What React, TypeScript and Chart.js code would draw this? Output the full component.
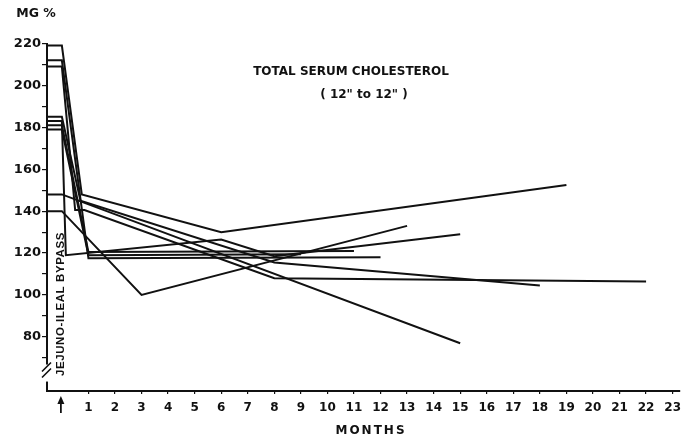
import { useEffect, useRef } from "react";
import { Chart, registerables } from "chart.js";

Chart.register(...registerables);

// ---- axis ranges & ticks ----
const X_MIN = -0.56;
const X_MAX = 23.27;
const Y_MIN = 54.2;
const Y_MAX = 220;
const monthTicks = [1, 2, 3, 4, 5, 6, 7, 8, 9, 10, 11, 12, 13, 14, 15, 16, 17, 18, 19, 20, 21, 22, 23];
const yTickValues = [70, 80, 90, 100, 110, 120, 130, 140, 150, 160, 170, 180, 190, 200, 210, 220];
const yLabelValues = [80, 100, 120, 140, 160, 180, 200, 220];

// ---- data: pre-operative value, then months after bypass / values (mg %) ----
const preOpValues = [219, 212, 209, 185, 183, 181, 179, 148, 140];

const patientAMonths = [0, 0.75, 6, 19];
const patientAValues = [219, 148, 130, 152.5];
const patientBMonths = [0, 1, 12];
const patientBValues = [212, 117.5, 118];
const patientCMonths = [0, 0.5, 0.85, 8, 22];
const patientCValues = [209, 140.5, 140.5, 108, 106.5];
const patientDMonths = [0, 0.7, 8, 18];
const patientDValues = [185, 145, 115.5, 104.5];
const patientEMonths = [0, 0.15, 6, 8, 15];
const patientEValues = [183, 119, 126.5, 118.5, 129];
const patientFMonths = [0, 1, 11];
const patientFValues = [181, 120.5, 121];
const patientGMonths = [0, 1, 9];
const patientGValues = [179, 119, 119.5];
const patientHMonths = [0, 15];
const patientHValues = [148, 77];
const patientIMonths = [0, 3, 13];
const patientIValues = [140, 100, 133];

const patientMonths = [patientAMonths, patientBMonths, patientCMonths, patientDMonths, patientEMonths, patientFMonths, patientGMonths, patientHMonths, patientIMonths];
const patientValues = [patientAValues, patientBValues, patientCValues, patientDValues, patientEValues, patientFValues, patientGValues, patientHValues, patientIValues];

const TITLE = "TOTAL SERUM CHOLESTEROL";
const SUBTITLE = "( 12\" to 12\" )";
const Y_UNIT = "MG %";
const X_TITLE = "MONTHS";
const OPERATION_LABEL = "JEJUNO-ILEAL BYPASS";

const FONT = "'DejaVu Sans', sans-serif";
const INK = "#111";

const decorations = {
  id: "decorations",
  afterDraw(chart: any) {
    const ctx = chart.ctx as CanvasRenderingContext2D;
    const xs = chart.scales.x;
    const ys = chart.scales.y;
    const area = chart.chartArea;
    ctx.save();
    // y-axis break
    const breakY = ys.getPixelForValue(63);
    ctx.fillStyle = "#fff";
    ctx.fillRect(area.left - 3, breakY - 8, 7, 17);
    ctx.strokeStyle = INK;
    ctx.lineWidth = 1.6;
    ctx.beginPath();
    ctx.moveTo(area.left - 5, breakY - 1);
    ctx.lineTo(area.left + 4, breakY - 10);
    ctx.moveTo(area.left - 5, breakY + 5);
    ctx.lineTo(area.left + 4, breakY - 4);
    ctx.stroke();

    // arrow at operation
    const ax = xs.getPixelForValue(0) - 1;
    const ay = area.bottom;
    ctx.lineWidth = 1.8;
    ctx.beginPath();
    ctx.moveTo(ax, ay + 22);
    ctx.lineTo(ax, ay + 9);
    ctx.stroke();
    ctx.fillStyle = INK;
    ctx.beginPath();
    ctx.moveTo(ax, ay + 5);
    ctx.lineTo(ax - 3.5, ay + 13);
    ctx.lineTo(ax + 3.5, ay + 13);
    ctx.closePath();
    ctx.fill();

    // rotated operation label
    ctx.save();
    ctx.translate(xs.getPixelForValue(0) - 1, 304);
    ctx.rotate(-Math.PI / 2);
    ctx.font = `bold 11.5px 'Liberation Sans', sans-serif`;
    (ctx as any).letterSpacing = "0.6px";
    ctx.textAlign = "center";
    ctx.textBaseline = "middle";
    ctx.fillText(OPERATION_LABEL, 0, 0);
    ctx.restore();

    // texts
    ctx.fillStyle = INK;
    ctx.textAlign = "center";
    ctx.textBaseline = "middle";
    ctx.font = `bold 12px ${FONT}`;
    (ctx as any).letterSpacing = "0px";
    ctx.fillText(TITLE, 351, 72);
    ctx.fillText(SUBTITLE, 364, 95);
    ctx.font = `bold 12.5px ${FONT}`;
    ctx.fillText(Y_UNIT, 36, 14);
    ctx.font = `bold 12px ${FONT}`;
    (ctx as any).letterSpacing = "2px";
    ctx.fillText(X_TITLE, 371, 431);
    ctx.restore();
  },
};

export default function App() {
  const canvasRef = useRef<HTMLCanvasElement | null>(null);

  useEffect(() => {
    if (!canvasRef.current) return;
    const datasets = patientMonths.map((months, i) => ({
      label: `Patient ${i + 1}`,
      data: [{ x: X_MIN, y: preOpValues[i] }, ...months.map((m, j) => ({ x: m, y: patientValues[i][j] }))],
      borderColor: INK,
      backgroundColor: INK,
      borderWidth: 2,
      pointRadius: 0,
      tension: 0,
      fill: false,
      clip: false as any,
    }));

    const chart = new Chart(canvasRef.current, {
      type: "line",
      data: { datasets },
      options: {
        animation: false,
        responsive: false,
        devicePixelRatio: 1,
        layout: { padding: { top: 43.5, right: 2, bottom: 0, left: 0 } },
        plugins: { legend: { display: false }, tooltip: { enabled: false }, title: { display: false } },
        scales: {
          x: {
            type: "linear",
            min: X_MIN,
            max: X_MAX,
            afterFit: (s: any) => { s.height = 46; },
            afterBuildTicks: (s: any) => { s.ticks = monthTicks.map((v) => ({ value: v })); },
            grid: { drawOnChartArea: false, drawTicks: true, tickLength: 3, color: INK, lineWidth: 1.2 },
            border: { display: true, color: INK, width: 2 },
            ticks: {
              color: INK,
              font: { family: FONT, size: 12, weight: "bold" },
              padding: 7,
              maxRotation: 0,
              autoSkip: false,
              callback: (v: any) => String(v),
            },
          },
          y: {
            type: "linear",
            min: Y_MIN,
            max: Y_MAX,
            afterFit: (s: any) => { s.width = 47; },
            afterBuildTicks: (s: any) => { s.ticks = yTickValues.map((v) => ({ value: v })); },
            grid: { drawOnChartArea: false, drawTicks: true, tickLength: 5, color: INK, lineWidth: 1.2 },
            border: { display: true, color: INK, width: 2 },
            ticks: {
              color: INK,
              font: { family: FONT, size: 13, weight: "bold" },
              padding: 1,
              autoSkip: false,
              callback: (v: any) => (yLabelValues.includes(Number(v)) ? String(v) : ""),
            },
          },
        },
      },
      plugins: [decorations],
    });
    return () => chart.destroy();
  }, []);

  return (
    <div style={{ position: "absolute", left: 0, top: 0, width: 688, height: 437, background: "#fff" }}>
      <canvas ref={canvasRef} width={688} height={437} style={{ width: 688, height: 437, display: "block" }} />
    </div>
  );
}
